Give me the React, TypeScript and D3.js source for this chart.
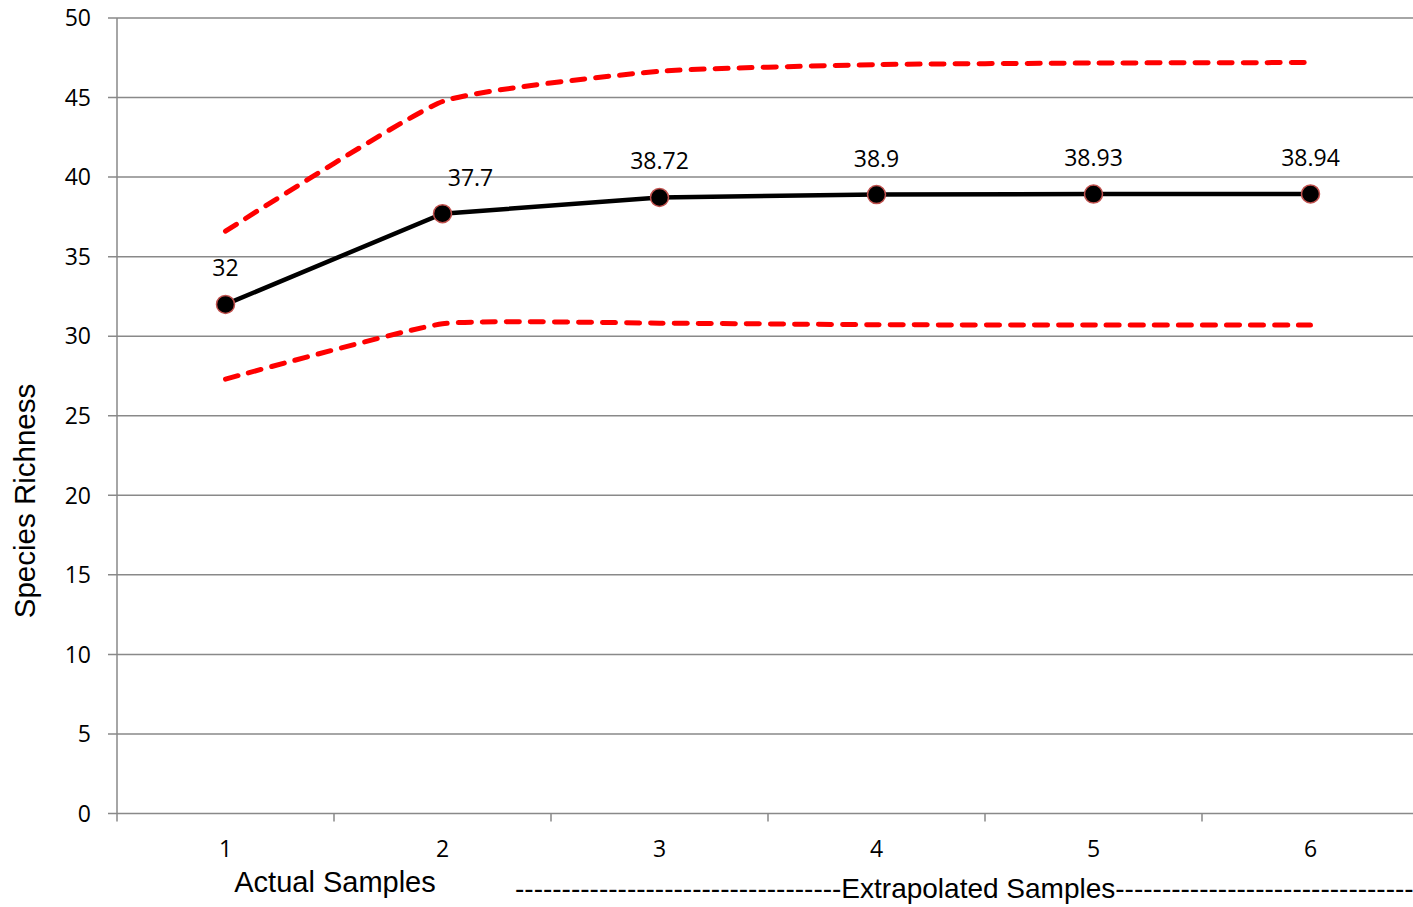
import React from "react";
import * as d3 from "d3";

// Sample numbers along the x axis
const samples = ["1", "2", "3", "4", "5", "6"];
// Estimated species richness at each sample
const richness = [32, 37.7, 38.72, 38.9, 38.93, 38.94];
// Upper and lower 95% confidence bounds
const upperBound = [36.6, 44.75, 46.65, 47.07, 47.17, 47.2];
const lowerBound = [27.3, 30.78, 30.82, 30.72, 30.7, 30.7];
// Y axis tick values
const yTicks = [0, 5, 10, 15, 20, 25, 30, 35, 40, 45, 50];

const W = 1413;
const H = 907;
const LEFT = 117;
const RIGHT = 1419;
const TOP = 18;
const BOTTOM = 813.5;

const GRID = "#898989";
const NUM_FONT = "'Open Sans', sans-serif";
const TITLE_FONT = "'Liberation Sans', Arial, sans-serif";
// horizontal nudge for the value labels (the second one sits right of its point)
const labelDx = [0, 28, 0, 0, 0, 0];

export default function App() {
  const x = d3.scaleBand<string>().domain(samples).range([LEFT, RIGHT]).padding(0);
  const y = d3.scaleLinear().domain([0, 50]).range([BOTTOM, TOP]);
  const cx = (i: number) => (x(samples[i]) as number) + x.bandwidth() / 2;

  const mainLine = d3
    .line<number>()
    .x((_, i) => cx(i))
    .y((d) => y(d));
  const boundLine = d3
    .line<number>()
    .x((_, i) => cx(i))
    .y((d) => y(d))
    .curve(d3.curveCardinal.tension(0.55));

  const boundaries = d3.range(samples.length + 1).map((i) => LEFT + i * x.bandwidth());

  return (
    <svg
      width={W}
      height={H}
      style={{ position: "absolute", left: 0, top: 0, background: "#fff" }}
    >
      {/* horizontal gridlines with left tick stubs */}
      {yTicks.map((t) => (
        <g key={t}>
          <line x1={108} x2={W} y1={y(t)} y2={y(t)} stroke={GRID} strokeWidth={1.5} />
          <text
            x={91}
            y={y(t)}
            dy="0.36em"
            textAnchor="end"
            fontFamily={NUM_FONT}
            fontSize={23}
            fill="#000"
          >
            {t}
          </text>
        </g>
      ))}
      {/* y axis line */}
      <line x1={LEFT} x2={LEFT} y1={TOP} y2={BOTTOM} stroke={GRID} strokeWidth={1.5} />
      {/* x axis ticks between categories */}
      {boundaries.map((b, i) => (
        <line key={i} x1={b} x2={b} y1={BOTTOM} y2={BOTTOM + 8} stroke={GRID} strokeWidth={1.5} />
      ))}
      {samples.map((s, i) => (
        <text
          key={s}
          x={cx(i)}
          y={857}
          textAnchor="middle"
          fontFamily={NUM_FONT}
          fontSize={23}
          fill="#000"
        >
          {s}
        </text>
      ))}

      {/* confidence bounds */}
      {[upperBound, lowerBound].map((b, k) => (
        <path
          key={k}
          d={boundLine(b) || ""}
          fill="none"
          stroke="#ff0000"
          strokeWidth={5}
          strokeDasharray="13 11"
          strokeLinecap="round"
        />
      ))}

      {/* richness line with markers */}
      <path d={mainLine(richness) || ""} fill="none" stroke="#000" strokeWidth={4.5} />
      {richness.map((v, i) => (
        <circle key={i} cx={cx(i)} cy={y(v)} r={9} fill="#000" stroke="#c0504d" strokeWidth={1.5} />
      ))}
      {richness.map((v, i) => (
        <text
          key={i}
          x={cx(i) + labelDx[i]}
          y={y(v) - 28}
          textAnchor="middle"
          fontFamily={NUM_FONT}
          fontSize={23}
          fill="#000"
        >
          {v}
        </text>
      ))}

      {/* axis titles */}
      <text
        transform="translate(35,501) rotate(-90)"
        textAnchor="middle"
        fontFamily={TITLE_FONT}
        fontSize={29.5}
        fill="#000"
      >
        Species Richness
      </text>
      <text
        x={335}
        y={892}
        textAnchor="middle"
        fontFamily={TITLE_FONT}
        fontSize={29}
        fill="#000"
      >
        Actual Samples
      </text>
      <text x={515} y={898} fontFamily={TITLE_FONT} fontSize={28} fill="#000">
        {"-".repeat(35) + "Extrapolated Samples" + "-".repeat(32)}
      </text>
    </svg>
  );
}
